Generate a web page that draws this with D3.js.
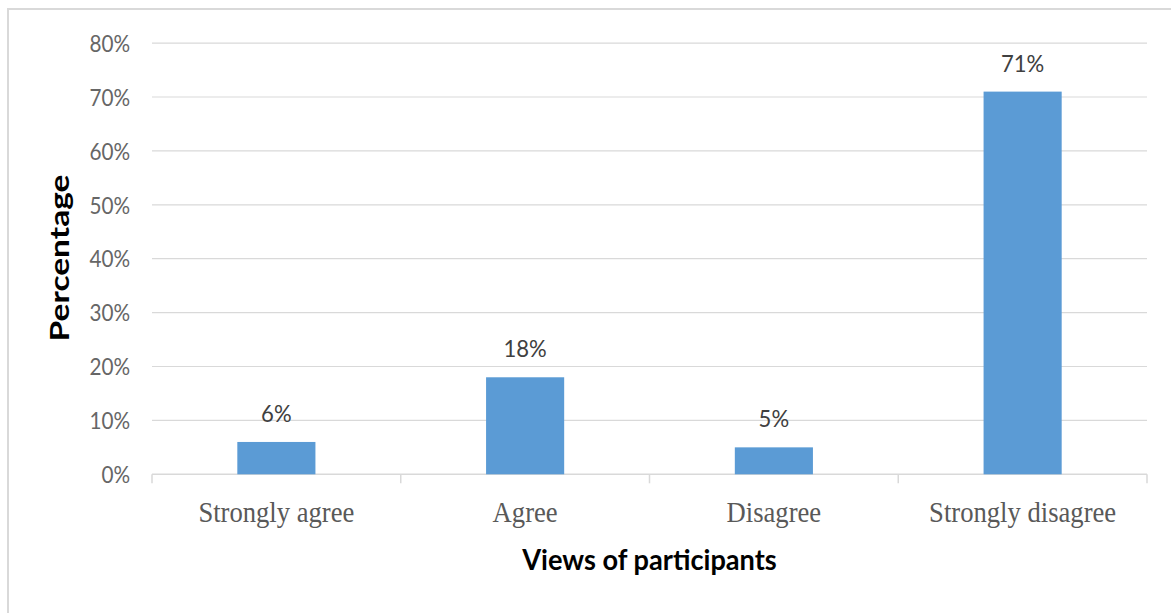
<!DOCTYPE html>
<html>
<head>
<meta charset="utf-8">
<script src="https://cdn.jsdelivr.net/npm/d3@7"></script>
<style>
  html, body { margin: 0; padding: 0; background: #ffffff; }
  svg { display: block; }
</style>
</head>
<body>
<svg id="chart" width="1171" height="613"></svg>
<script>
// Survey responses: share of participants per view
const categories = ["Strongly agree", "Agree", "Disagree", "Strongly disagree"];
const percentages = [0.06, 0.18, 0.05, 0.71];
const yTicks = [0, 0.1, 0.2, 0.3, 0.4, 0.5, 0.6, 0.7, 0.8];
const xTitle = "Views of participants";
const yTitle = "Percentage";

const W = 1171, H = 613;
const plot = { left: 152, right: 1147, top: 43.1, bottom: 474.3 };
const gapWidth = 0.686;

const svg = d3.select("#chart");

// Frame around the chart area
svg.append("path")
  .attr("d", `M8,${H} L8,9 L${W},9`)
  .attr("fill", "none")
  .attr("stroke", "#d9d9d9")
  .attr("stroke-width", 2);

const x = d3.scaleBand()
  .domain(categories)
  .range([plot.left, plot.right])
  .paddingInner(gapWidth)
  .paddingOuter(gapWidth / 2);

const xCells = d3.scaleBand()
  .domain(categories)
  .range([plot.left, plot.right])
  .padding(0);

const y = d3.scaleLinear()
  .domain([0, 0.8])
  .range([plot.bottom, plot.top]);

const pct = d3.format(".0%");

// Horizontal gridlines
svg.append("g")
  .selectAll("line")
  .data(yTicks.filter(t => t > 0))
  .join("line")
  .attr("x1", plot.left)
  .attr("x2", plot.right)
  .attr("y1", d => y(d))
  .attr("y2", d => y(d))
  .attr("stroke", "#d9d9d9")
  .attr("stroke-width", 1.2);

// Width helper: keeps the glyph height, rescales the run horizontally
function narrow(sel, factor) {
  sel.each(function () {
    const w = this.getComputedTextLength();
    d3.select(this)
      .attr("textLength", w * factor)
      .attr("lengthAdjust", "spacingAndGlyphs");
  });
}

// Y axis labels
const yAxis = svg.append("g")
  .attr("transform", `translate(${plot.left},0)`)
  .call(d3.axisLeft(y).tickValues(yTicks).tickFormat(pct).tickSize(0).tickPadding(22));
yAxis.select(".domain").remove();
yAxis.selectAll("text")
  .attr("fill", "#666666")
  .attr("font-family", "Lato, 'Open Sans', sans-serif")
  .attr("font-size", 23)
  .attr("dy", "0.36em")
  .call(narrow, 0.9);

// X axis: baseline with tick marks at the category boundaries
const boundaries = categories.map(c => xCells(c)).concat([plot.right]);
svg.append("line")
  .attr("x1", plot.left).attr("x2", plot.right)
  .attr("y1", y(0)).attr("y2", y(0))
  .attr("stroke", "#d9d9d9").attr("stroke-width", 1.5);
svg.append("g")
  .selectAll("line")
  .data(boundaries)
  .join("line")
  .attr("x1", d => d).attr("x2", d => d)
  .attr("y1", y(0)).attr("y2", y(0) + 9)
  .attr("stroke", "#d9d9d9").attr("stroke-width", 1.5);

// Category labels
svg.append("g")
  .selectAll("text")
  .data(categories)
  .join("text")
  .attr("x", d => xCells(d) + xCells.bandwidth() / 2)
  .attr("y", 521.5)
  .attr("text-anchor", "middle")
  .attr("fill", "#595959")
  .attr("font-family", "'Liberation Serif', 'Times New Roman', serif")
  .attr("font-size", 28.5)
  .text(d => d)
  .call(narrow, 0.934);

// Bars
svg.append("g")
  .selectAll("rect")
  .data(categories)
  .join("rect")
  .attr("x", d => x(d))
  .attr("width", x.bandwidth())
  .attr("y", (d, i) => y(percentages[i]))
  .attr("height", (d, i) => y(0) - y(percentages[i]))
  .attr("fill", "#5b9bd5");

// Value labels above bars
svg.append("g")
  .selectAll("text")
  .data(categories)
  .join("text")
  .attr("x", d => x(d) + x.bandwidth() / 2)
  .attr("y", (d, i) => y(percentages[i]) - 20)
  .attr("text-anchor", "middle")
  .attr("fill", "#404040")
  .attr("font-family", "Lato, 'Open Sans', sans-serif")
  .attr("font-size", 23)
  .text((d, i) => pct(percentages[i]))
  .call(narrow, 0.96);

// Axis titles
svg.append("text")
  .attr("x", (plot.left + plot.right) / 2)
  .attr("y", 570)
  .attr("text-anchor", "middle")
  .attr("fill", "#000000")
  .attr("font-family", "Lato, 'Open Sans', sans-serif")
  .attr("font-weight", "bold")
  .attr("font-size", 29)
  .text(xTitle)
  .call(narrow, 0.937);

svg.append("text")
  .attr("transform", `translate(69,258) rotate(-90)`)
  .attr("text-anchor", "middle")
  .attr("fill", "#000000")
  .attr("font-family", "Lato, 'Open Sans', sans-serif")
  .attr("font-weight", "bold")
  .attr("font-size", 27)
  .text(yTitle)
  .call(narrow, 1.24);
</script>
</body>
</html>
